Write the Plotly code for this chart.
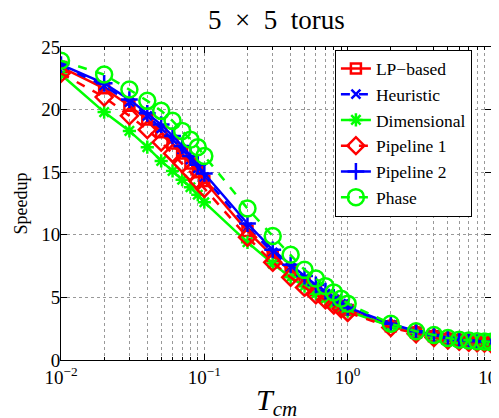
import plotly.graph_objects as go

x = [0.01, 0.02, 0.03, 0.04, 0.05, 0.06, 0.07, 0.08, 0.09, 0.1,
     0.2, 0.3, 0.4, 0.5, 0.6, 0.7, 0.8, 0.9, 1.0,
     2, 3, 4, 5, 6, 7, 8, 9, 10]

lp_based = [23.4, 21.7, 20.3, 19.2, 18.2, 17.3, 16.5, 15.7, 15.0, 14.3,
            10.3, 8.3, 7.1, 6.3, 5.6, 5.1, 4.7, 4.3, 4.0,
            2.7, 2.2, 1.9, 1.7, 1.57, 1.5, 1.45, 1.42, 1.4]
heuristic = [23.5, 21.9, 20.6, 19.5, 18.5, 17.6, 16.8, 16.0, 15.3, 14.6,
             10.6, 8.6, 7.4, 6.5, 5.9, 5.3, 4.9, 4.5, 4.1,
             2.8, 2.25, 1.95, 1.72, 1.6, 1.52, 1.48, 1.45, 1.42]
dimensional = [22.8, 19.8, 18.3, 17.0, 15.9, 15.1, 14.4, 13.8, 13.2, 12.6,
               9.4, 7.7, 6.6, 5.9, 5.3, 4.9, 4.5, 4.2, 3.9,
               2.7, 2.2, 1.9, 1.7, 1.55, 1.5, 1.45, 1.42, 1.4]
pipeline1 = [22.9, 21.0, 19.5, 18.4, 17.4, 16.5, 15.7, 15.0, 14.3, 13.7,
             9.8, 7.8, 6.6, 5.8, 5.2, 4.8, 4.4, 4.1, 3.8,
             2.6, 2.1, 1.8, 1.6, 1.5, 1.42, 1.38, 1.35, 1.32]
pipeline2 = [23.6, 22.1, 20.8, 19.7, 18.8, 17.9, 17.1, 16.3, 15.6, 14.9,
             10.9, 8.8, 7.6, 6.7, 6.0, 5.5, 5.0, 4.6, 4.2,
             2.9, 2.3, 2.0, 1.75, 1.6, 1.55, 1.5, 1.47, 1.45]
phase = [23.9, 22.8, 21.6, 20.7, 19.9, 19.1, 18.3, 17.6, 17.0, 16.3,
         12.1, 9.9, 8.4, 7.2, 6.5, 5.9, 5.4, 4.9, 4.5,
         2.9, 2.3, 2.0, 1.75, 1.62, 1.55, 1.5, 1.47, 1.45]

x_tickvals = [0.01, 0.1, 1, 10]
x_ticktext = ["10<sup>\u22122</sup>", "10<sup>\u22121</sup>", "10<sup>0</sup>", "10<sup>1</sup>"]

RED, BLUE, GREEN = "#FF0000", "#0000FF", "#00FF00"
series = [
    ("LP\u2212based", lp_based, RED, "solid", "square-open", 10),
    ("Heuristic", heuristic, BLUE, "dash", "x-thin-open", 9),
    ("Dimensional", dimensional, GREEN, "solid", "asterisk-open", 11),
    ("Pipeline 1", pipeline1, RED, "dash", "diamond-open", 13),
    ("Pipeline 2", pipeline2, BLUE, "solid", "cross-thin-open", 12),
    ("Phase", phase, GREEN, "dash", "circle-open", 16),
]

fig = go.Figure()
for name, ys, col, dash, sym, sz in series:
    fig.add_trace(go.Scatter(
        x=x, y=ys, name=name, mode="lines+markers",
        line=dict(color=col, width=2.5, dash=dash),
        marker=dict(symbol=sym, size=sz, color=col, line=dict(color=col, width=2.5)),
    ))

serif = "Liberation Serif"
# page body has an 8px default margin, so the figure is sized to fit inside 499x418
fig.update_layout(
    width=491, height=410,
    margin=dict(l=53, r=8, t=39, b=58, autoexpand=False),
    paper_bgcolor="white", plot_bgcolor="white",
    font=dict(family=serif, size=19, color="black"),
    showlegend=True,
    legend=dict(x=0.637, y=0.992, xanchor="left", yanchor="top",
                bgcolor="white", bordercolor="black", borderwidth=1,
                font=dict(family=serif, size=17.5, color="black"),
                tracegroupgap=0, itemwidth=30),
    annotations=[
        dict(text="5\u2002\u00d7\u20025\u2002torus", xref="paper", yref="paper", x=0.5, y=1,
             xanchor="center", yanchor="middle", yshift=27, showarrow=False,
             font=dict(family=serif, size=27, color="black")),
        dict(text="Speedup", xref="paper", yref="paper", x=0, y=0.5,
             xanchor="center", yanchor="middle", xshift=-41, textangle=-90, showarrow=False,
             font=dict(family=serif, size=18, color="black")),
        dict(text="<i>T</i><sub><i>cm</i></sub>", xref="paper", yref="paper", x=0.5, y=0,
             xanchor="center", yanchor="top", yshift=-21, showarrow=False,
             font=dict(family=serif, size=30, color="black")),
    ],
)
fig.update_xaxes(
    type="log", range=[-2, 1], automargin=False,
    tickvals=x_tickvals, ticktext=x_ticktext, ticklabeloverflow="allow",
    tickfont=dict(family=serif, size=19),
    ticks="inside", ticklen=6, tickcolor="black",
    showline=True, linecolor="black", linewidth=1, mirror="ticks",
    showgrid=True, gridcolor="#999999", griddash="dot", gridwidth=1,
    minor=dict(ticks="inside", ticklen=3, tickcolor="black", showgrid=True,
               gridcolor="#999999", griddash="dot", gridwidth=1, dtick="D1"),
    zeroline=False,
)
fig.update_yaxes(
    range=[0, 25], dtick=5, automargin=False, ticklabelstandoff=-4,
    tickfont=dict(family=serif, size=19),
    ticks="inside", ticklen=6, tickcolor="black",
    showline=True, linecolor="black", linewidth=1, mirror="ticks",
    showgrid=True, gridcolor="#999999", griddash="dot", gridwidth=1,
    zeroline=False,
)

fig.write_html("out.html")
